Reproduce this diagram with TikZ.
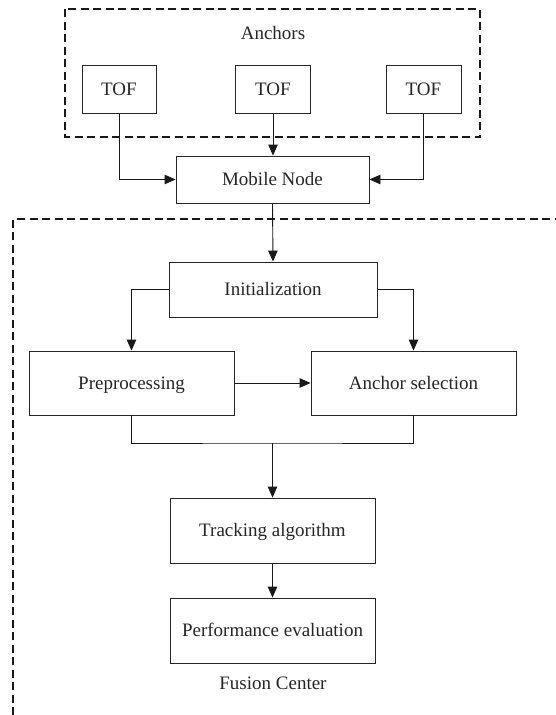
\documentclass[tikz,border=0pt]{standalone}
\usepackage{fontspec}
\setmainfont{Liberation Serif}
\usetikzlibrary{arrows.meta}
\begin{document}
\begin{tikzpicture}[x=1pt,y=-1pt,
  box/.style={draw=black!85,line width=0.9pt,rectangle,inner sep=0pt,font=\fontsize{19}{22}\selectfont,text=black!85,text height=12.6pt,text depth=0pt},
  lbl/.style={inner sep=0pt,font=\fontsize{19}{22}\selectfont,text=black!85},
  arr/.style={draw=black!90,line width=0.9pt,-{Triangle[length=11pt,width=9.5pt]}},
  ln/.style={draw=black!90,line width=0.9pt},
  grp/.style={draw=black!90,line width=1.2pt,dash pattern=on 8pt off 4.5pt}]
\useasboundingbox (0,0) rectangle (556,715);
\fill[white] (0,0) rectangle (556,715);
% groups
\draw[grp] (65,9) rectangle (480,137);
\draw[grp] (13,715) -- (13,219) -- (556,219);
\node[lbl] (anchors) at (273,33) {Anchors};
\node[lbl] (fusion) at (273,683) {Fusion Center};
% nodes
\node[box,minimum width=74pt,minimum height=48pt] (tof1) at (119,89) {TOF};
\node[box,minimum width=75pt,minimum height=48pt] (tof2) at (273,89) {TOF};
\node[box,minimum width=75pt,minimum height=48pt] (tof3) at (423.5,89) {TOF};
\node[box,minimum width=193pt,minimum height=47pt] (mobile) at (272.5,179.5) {Mobile Node};
\node[box,minimum width=208pt,minimum height=55pt] (init) at (273,289.5) {Initialization};
\node[box,minimum width=205pt,minimum height=64pt] (pre) at (131.5,383) {Preprocessing};
\node[box,minimum width=205pt,minimum height=64pt] (anc) at (413.5,383) {Anchor selection};
\node[box,minimum width=205pt,minimum height=65pt] (track) at (272.5,530.5) {Tracking algorithm};
\node[box,minimum width=205pt,minimum height=65pt] (perf) at (272.5,630.5) {Performance evaluation};
\coordinate (join) at (272.5,443);
% connectors
\draw[arr] (tof1.south) |- (mobile.west);
\draw[arr] (tof2.south) -- (tof2.south |- mobile.north);
\draw[arr] (tof3.south) |- (mobile.east);
\draw[arr] (mobile.south) -- (init.north);
\draw[arr] (init.west) -| (pre.north);
\draw[arr] (init.east) -| (anc.north);
\draw[arr] (pre.east) -- (anc.west);
\draw[ln] (pre.south) |- (join) -| (anc.south);
\draw[arr] (join) -- (track.north);
\draw[arr] (track.south) -- (perf.north);
\end{tikzpicture}
\end{document}
